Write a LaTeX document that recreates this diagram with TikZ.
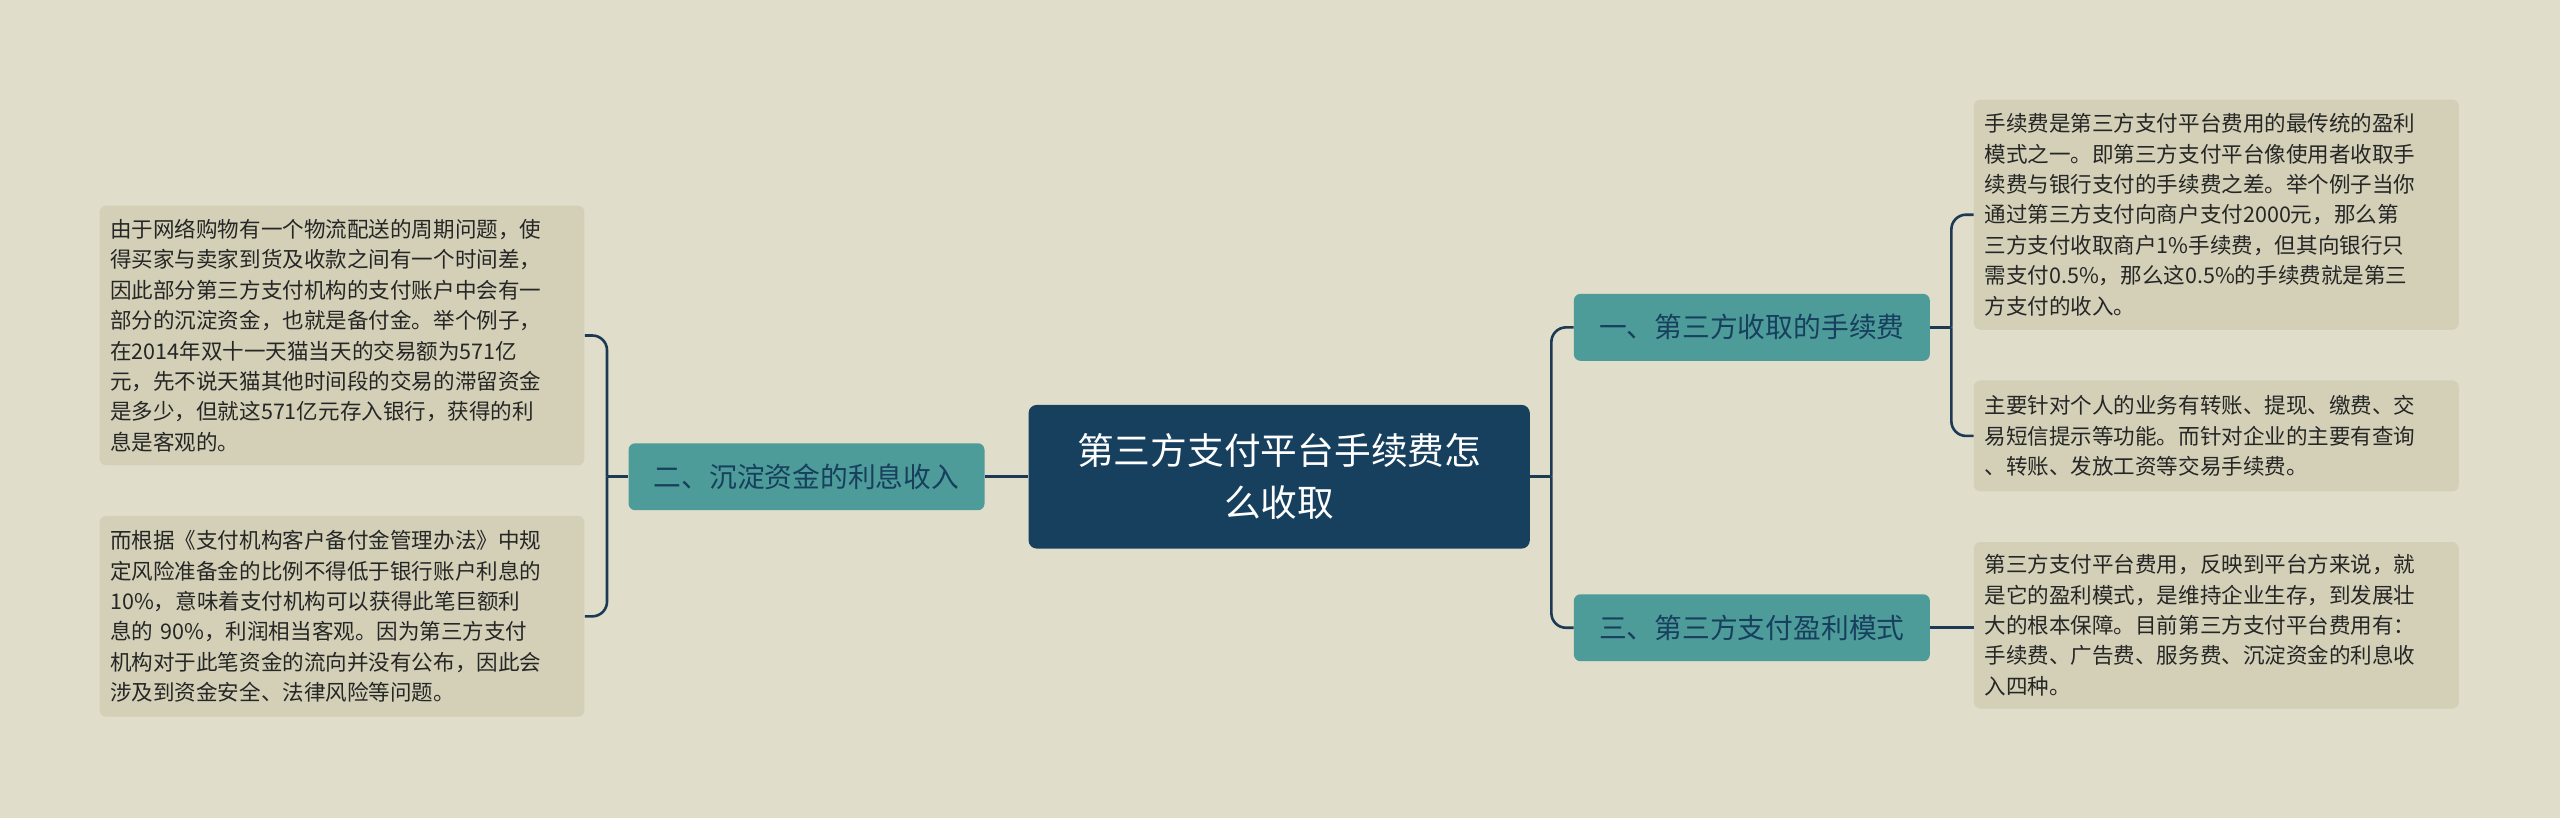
\documentclass[tikz,border=0pt]{standalone}
\usepackage{fontspec}
\setmainfont{Noto Sans CJK SC}
\definecolor{bg}{HTML}{E0DDCB}
\definecolor{leaf}{HTML}{D3D0B7}
\definecolor{teal}{HTML}{4E9C99}
\definecolor{navy}{HTML}{173F5E}
\definecolor{ln}{HTML}{1D3A55}
\begin{document}
\begin{tikzpicture}[x=1pt,y=-1pt,
 leafbox/.style={fill=leaf,rounded corners=4pt,inner sep=0pt,minimum width=297pt,text width=284pt,align=left,font=\fontsize{13.2}{18.6}\selectfont,text=black!85},
 branch/.style={fill=teal,rounded corners=4pt,minimum width=218pt,minimum height=41pt,inner sep=0pt,font=\fontsize{17}{22}\selectfont,text=navy},
 conn/.style={draw=ln,line width=1.6pt,rounded corners=9pt}]
\fill[bg] (0,0) rectangle (1568,501);
\node[fill=navy,rounded corners=5pt,minimum width=307pt,minimum height=88pt,text width=280pt,align=center,text=white,font=\fontsize{22.5}{32}\selectfont] (c) at (783.5,292) {第三方支付平台手续费怎\\么收取};
\node[branch] (lb) at (494,292) {二、沉淀资金的利息收入};
\node[branch] (r1) at (1073,200.5) {一、第三方收取的手续费};
\node[branch] (r2) at (1073,384.5) {三、第三方支付盈利模式};
\node[leafbox,minimum height=159pt] (l1) at (209.5,205.5) {由于网络购物有一个物流配送的周期问题，使\\得买家与卖家到货及收款之间有一个时间差，\\因此部分第三方支付机构的支付账户中会有一\\部分的沉淀资金，也就是备付金。举个例子，\\在2014年双十一天猫当天的交易额为571亿\\元，先不说天猫其他时间段的交易的滞留资金\\是多少，但就这571亿元存入银行，获得的利\\息是客观的。};
\node[leafbox,minimum height=123pt] (l2) at (209.5,377.5) {而根据《支付机构客户备付金管理办法》中规\\定风险准备金的比例不得低于银行账户利息的\\10\%，意味着支付机构可以获得此笔巨额利\\息的 90\%，利润相当客观。因为第三方支付\\机构对于此笔资金的流向并没有公布，因此会\\涉及到资金安全、法律风险等问题。};
\node[leafbox,minimum height=141pt] (q1) at (1357.5,131.5) {手续费是第三方支付平台费用的最传统的盈利\\模式之一。即第三方支付平台像使用者收取手\\续费与银行支付的手续费之差。举个例子当你\\通过第三方支付向商户支付2000元，那么第\\三方支付收取商户1\%手续费，但其向银行只\\需支付0.5\%，那么这0.5\%的手续费就是第三\\方支付的收入。};
\node[leafbox,minimum height=68pt] (q2) at (1357.5,267) {主要针对个人的业务有转账、提现、缴费、交\\易短信提示等功能。而针对企业的主要有查询\\、转账、发放工资等交易手续费。};
\node[leafbox,minimum height=102pt] (q3) at (1357.5,383) {第三方支付平台费用，反映到平台方来说，就\\是它的盈利模式，是维持企业生存，到发展壮\\大的根本保障。目前第三方支付平台费用有：\\手续费、广告费、服务费、沉淀资金的利息收\\入四种。};
\draw[conn] (c.west) -- (lb.east);
\draw[conn] (lb.west) -- ++(-13,0) coordinate (lj);
\draw[conn] (lj) |- (l1.east);
\draw[conn] (lj) |- (l2.east);
\draw[conn] (c.east) -- ++(13,0) coordinate (cj);
\draw[conn] (cj) |- (r1.west);
\draw[conn] (cj) |- (r2.west);
\draw[conn] (r1.east) -- ++(13,0) coordinate (rj);
\draw[conn] (rj) |- (q1.west);
\draw[conn] (rj) |- (q2.west);
\draw[conn] (r2.east) -- (q3.west |- r2.east);
\end{tikzpicture}
\end{document}
